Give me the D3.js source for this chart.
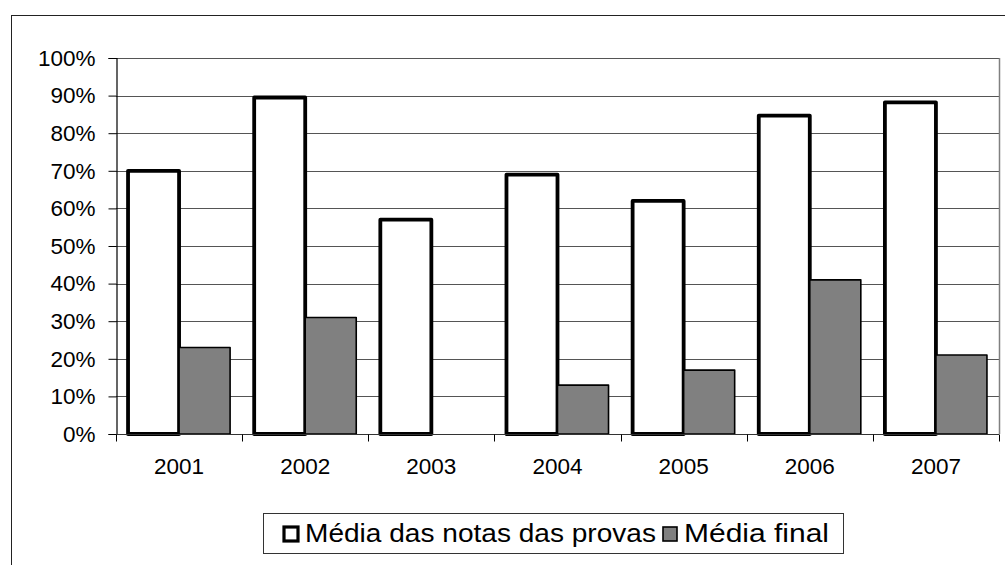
<!DOCTYPE html>
<html>
<head>
<meta charset="utf-8">
<script src="https://cdn.jsdelivr.net/npm/d3@7"></script>
<style>
  html, body { margin: 0; padding: 0; background: #fff; }
  svg { display: block; font-family: "Liberation Sans", Arial, sans-serif; }
</style>
</head>
<body>
<svg id="chart" width="1005" height="565"></svg>
<script>
// Yearly averages (percent)
const years = ["2001", "2002", "2003", "2004", "2005", "2006", "2007"];
const seriesNames = ["Média das notas das provas", "Média final"];
const mediaProvas = [70, 89.5, 57, 69, 62, 84.7, 88.2];
const mediaFinal = [23, 31, null, 13, 17, 41, 21];
const yTicks = [0, 10, 20, 30, 40, 50, 60, 70, 80, 90, 100];

const svg = d3.select("#chart");
const W = 1005, H = 565;
const plot = { left: 116, right: 999, top: 58, bottom: 434 };

// outer frame
svg.append("rect")
  .attr("x", 11.5).attr("y", 15.5)
  .attr("width", W + 10).attr("height", H + 10)
  .attr("fill", "#fff").attr("stroke", "#222").attr("stroke-width", 1);

const x0 = d3.scaleBand().domain(years).range([plot.left, plot.right]).paddingInner(0).paddingOuter(0);
const x1 = d3.scaleBand().domain(seriesNames).range([0, x0.bandwidth()]).paddingInner(0).paddingOuter(0.236);
const y = d3.scaleLinear().domain([0, 100]).range([plot.bottom, plot.top]);

// gridlines
svg.append("g")
  .selectAll("line")
  .data(yTicks.filter(t => t > 0))
  .join("line")
  .attr("x1", plot.left).attr("x2", plot.right)
  .attr("y1", d => Math.round(y(d)) + 0.5).attr("y2", d => Math.round(y(d)) + 0.5)
  .attr("stroke", "#555").attr("stroke-width", 1);

// right edge of plot area
svg.append("line")
  .attr("x1", plot.right + 0.5).attr("x2", plot.right + 0.5)
  .attr("y1", plot.top).attr("y2", plot.bottom)
  .attr("stroke", "#808080").attr("stroke-width", 1.5);

// bars
const rows = years.map((yr, i) => ({ year: yr, values: [mediaProvas[i], mediaFinal[i]] }));
const fills = ["#ffffff", "#808080"];
const strokeW = [3.8, 1.6];

const groups = svg.append("g").selectAll("g")
  .data(rows)
  .join("g")
  .attr("transform", d => `translate(${x0(d.year)},0)`);

groups.selectAll("rect")
  .data(d => d.values.map((v, k) => ({ k, v })).filter(e => e.v != null))
  .join("rect")
  .attr("x", e => x1(seriesNames[e.k]))
  .attr("width", x1.bandwidth())
  .attr("y", e => y(e.v))
  .attr("height", e => y(0) - y(e.v))
  .attr("fill", e => fills[e.k])
  .attr("stroke", "#000")
  .attr("stroke-width", e => strokeW[e.k])
  .attr("stroke-linejoin", "round");

// y axis
const yAxis = d3.axisLeft(y)
  .tickValues(yTicks)
  .tickFormat(d => d + "%")
  .tickSize(8)
  .tickPadding(13);
const gy = svg.append("g")
  .attr("transform", `translate(${plot.left + 0.5},0)`)
  .call(yAxis);
gy.select(".domain").attr("stroke", "#000").attr("stroke-width", 1.2);
gy.selectAll(".tick line").attr("stroke", "#000");
gy.selectAll(".tick text")
  .attr("font-size", 22.5)
  .attr("fill", "#000")
  .attr("font-family", "Liberation Sans, Arial, sans-serif");

// x axis (ticks at category boundaries)
const gx = svg.append("g")
  .attr("transform", `translate(0,${plot.bottom + 0.5})`);
gx.append("line")
  .attr("x1", plot.left).attr("x2", plot.right)
  .attr("stroke", "#333").attr("stroke-width", 1.2);
const boundaries = years.map(yr => x0(yr)).concat([plot.right]);
gx.selectAll("line.tk")
  .data(boundaries)
  .join("line")
  .attr("class", "tk")
  .attr("x1", d => Math.round(d) + 0.5).attr("x2", d => Math.round(d) + 0.5)
  .attr("y1", 0).attr("y2", 7)
  .attr("stroke", "#000");
gx.selectAll("text")
  .data(years)
  .join("text")
  .attr("x", d => x0(d) + x0.bandwidth() / 2)
  .attr("y", 39)
  .attr("text-anchor", "middle")
  .attr("font-size", 22.5)
  .attr("fill", "#000")
  .text(d => d);

// legend
const lg = svg.append("g");
lg.append("rect")
  .attr("x", 263.5).attr("y", 513.5)
  .attr("width", 580).attr("height", 40)
  .attr("fill", "#fff").attr("stroke", "#333").attr("stroke-width", 1);

const legendItems = [
  { name: seriesNames[0], sx: 284, tx: 305, tw: 351 },
  { name: seriesNames[1], sx: 663, tx: 684, tw: 145 }
];
legendItems.forEach((it, k) => {
  lg.append("rect")
    .attr("x", it.sx).attr("y", 527)
    .attr("width", 14).attr("height", 14)
    .attr("fill", fills[k]).attr("stroke", "#000")
    .attr("stroke-width", k === 0 ? 3.2 : 1.6);
  lg.append("text")
    .attr("x", it.tx).attr("y", 542)
    .attr("font-size", 25)
    .attr("textLength", it.tw)
    .attr("lengthAdjust", "spacingAndGlyphs")
    .attr("fill", "#000")
    .text(it.name);
});
</script>
</body>
</html>
